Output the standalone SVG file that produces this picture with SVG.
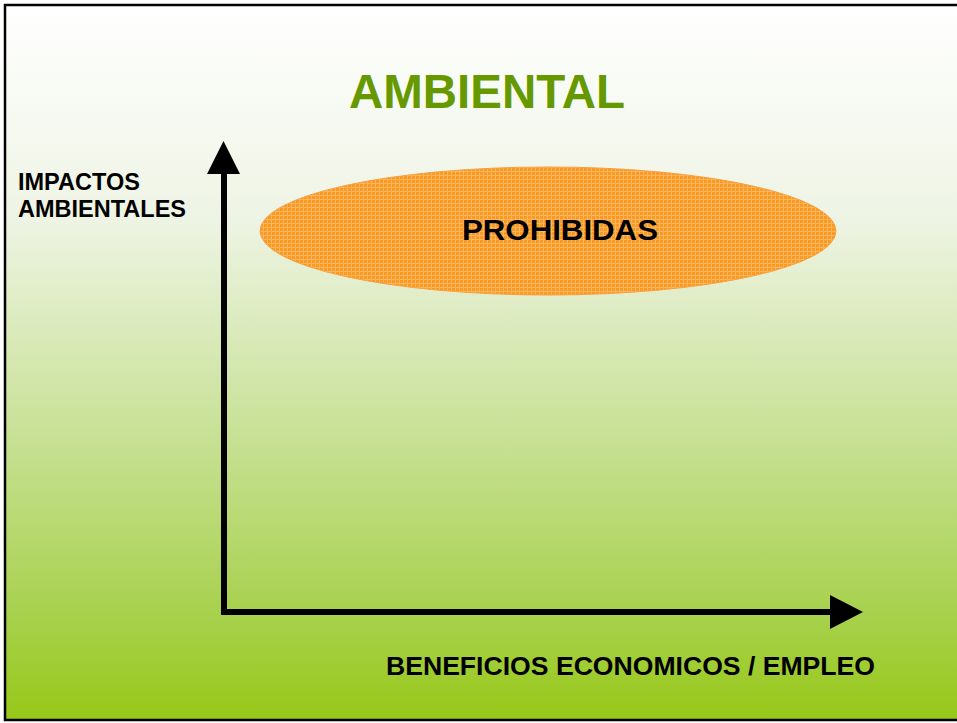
<svg xmlns="http://www.w3.org/2000/svg" width="957" height="723" viewBox="0 0 957 723">
  <defs>
    <linearGradient id="bg" x1="0" y1="0" x2="0" y2="1">
      <stop offset="0" stop-color="#FFFFFF"/>
      <stop offset="0.3" stop-color="#EEF4E4"/>
      <stop offset="0.6" stop-color="#C8E196"/>
      <stop offset="0.85" stop-color="#A8D14E"/>
      <stop offset="1" stop-color="#97C818"/>
    </linearGradient>
    <pattern id="weave" width="4" height="4" patternUnits="userSpaceOnUse">
      <rect width="4" height="4" fill="#FA9A22"/>
      <rect x="0" y="3" width="4" height="1" fill="#FBB55C"/>
      <rect x="3" y="0" width="1" height="4" fill="#FBB55C"/>
    </pattern>
    <style>
      .lbl { font-family: "Liberation Sans", Arial, sans-serif; font-weight: bold; fill: #000; }
      .axis { fill: #000; }
    </style>
  </defs>

  <rect x="0" y="0" width="957" height="723" fill="#FFFFFF"/>
  <rect id="frame" x="5" y="5" width="960" height="715" fill="url(#bg)" stroke="#000" stroke-width="2.5"/>

  <g id="title">
    <text x="487" y="108" text-anchor="middle" font-family="Liberation Sans, Arial, sans-serif" font-weight="bold" font-size="47.5" fill="#669900">AMBIENTAL</text>
  </g>

  <g id="y-label">
    <text class="lbl" x="18" y="190" font-size="23.5">IMPACTOS</text>
    <text class="lbl" x="18" y="217" font-size="23.5">AMBIENTALES</text>
  </g>

  <g id="prohibidas">
    <ellipse cx="548" cy="231" rx="288" ry="64" fill="url(#weave)" stroke="#F9A040" stroke-width="1"/>
    <text class="lbl" x="462" y="240" font-size="30" textLength="196" lengthAdjust="spacingAndGlyphs">PROHIBIDAS</text>
  </g>

  <g id="x-label">
    <text class="lbl" x="386" y="675" font-size="26" textLength="489" lengthAdjust="spacingAndGlyphs">BENEFICIOS ECONOMICOS / EMPLEO</text>
  </g>

  <g id="connectors">
    <rect class="axis" x="221" y="170" width="6" height="445"/>
    <polygon class="axis" points="223.5,141 207,174 240,174"/>
    <rect class="axis" x="221" y="609" width="612" height="6"/>
    <polygon class="axis" points="830,595 863,612 830,629"/>
  </g>
</svg>
